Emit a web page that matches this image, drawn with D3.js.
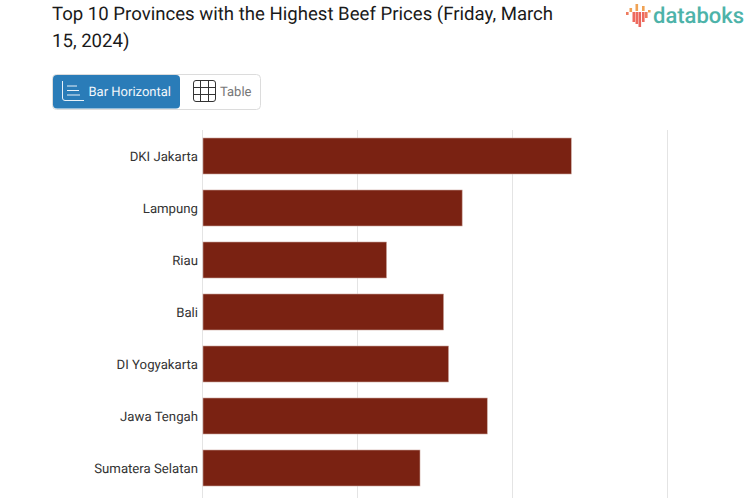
<!DOCTYPE html>
<html>
<head>
<meta charset="utf-8">
<script src="https://cdnjs.cloudflare.com/ajax/libs/d3/7.8.5/d3.min.js"></script>
<style>
  html, body { margin: 0; padding: 0; background: #fff; overflow: hidden; }
  text { font-family: Roboto, sans-serif; text-rendering: geometricPrecision; }
</style>
</head>
<body>
<script>
// only the seven rows visible in the picture, values estimated (no axis labels shown)
const provinces = ['DKI Jakarta', 'Lampung', 'Riau', 'Bali', 'DI Yogyakarta', 'Jawa Tengah', 'Sumatera Selatan'];
const prices = [118800, 83600, 59200, 77600, 79200, 91700, 70000];
const xTicks = [0, 50000, 100000, 150000];
const titleLines = ['Top 10 Provinces with the Highest Beef Prices (Friday, March', '15, 2024)'];

const w = 753;
const h = 498;

const svg = d3.select('body')
  .append('svg')
  .attr('width', w)
  .attr('height', h)
  .style('display', 'block');

// title
svg.append('g')
  .selectAll('text')
  .data(titleLines)
  .enter()
  .append('text')
  .attr('x', 52)
  .attr('y', (d, i) => 19.5 + i * 27)
  .attr('font-size', 18.6)
  .attr('fill', '#1a1a1a')
  .text(d => d);

// logo
const logoBars = [
  { x: 626, y: 12, h: 3, c: '#ee7b5f' },
  { x: 629.5, y: 8, h: 4, c: '#f0a254' },
  { x: 632.5, y: 12, h: 10, c: '#ee6a5e' },
  { x: 635.5, y: 4, h: 7, c: '#f0a254' },
  { x: 635.5, y: 12, h: 12, c: '#ee6a5e' },
  { x: 638.5, y: 12, h: 15, c: '#e9655c' },
  { x: 642, y: 6, h: 5, c: '#f0a254' },
  { x: 642, y: 12, h: 10, c: '#ee6a5e' },
  { x: 645, y: 12, h: 6, c: '#ee7b5f' },
  { x: 648, y: 10, h: 2.5, c: '#f0a254' },
];
svg.append('g')
  .selectAll('rect')
  .data(logoBars)
  .enter()
  .append('rect')
  .attr('x', d => d.x)
  .attr('y', d => d.y)
  .attr('width', 2.6)
  .attr('height', d => d.h)
  .attr('fill', d => d.c);

svg.append('text')
  .attr('x', 653)
  .attr('y', 23)
  .attr('font-size', 22)
  .attr('font-weight', 500)
  .attr('fill', '#4db3a9')
  .text('databoks');

// toggle buttons
const toggle = svg.append('g');
toggle.append('rect')
  .attr('x', 52.5)
  .attr('y', 74.5)
  .attr('width', 208)
  .attr('height', 35)
  .attr('rx', 4)
  .attr('fill', '#fff')
  .attr('stroke', '#dcdcdc');
toggle.append('rect')
  .attr('x', 53)
  .attr('y', 75)
  .attr('width', 127)
  .attr('height', 33.5)
  .attr('rx', 4)
  .attr('fill', '#2a7cb8');
toggle.append('text')
  .attr('x', 88.5)
  .attr('y', 96)
  .attr('font-size', 13)
  .attr('fill', '#f2f7fb')
  .text('Bar Horizontal');
toggle.append('text')
  .attr('x', 220)
  .attr('y', 96)
  .attr('font-size', 13)
  .attr('fill', '#777')
  .text('Table');

// bar icon
const barIcon = d3.path();
barIcon.moveTo(62.5, 81);
barIcon.lineTo(62.5, 98);
barIcon.quadraticCurveTo(62.5, 100.5, 65, 100.5);
barIcon.lineTo(84, 100.5);
[[67, 77, 86], [67, 79, 90.5], [67, 80, 95]].forEach(([x1, x2, y]) => {
  barIcon.moveTo(x1, y);
  barIcon.lineTo(x2, y);
});
toggle.append('path')
  .attr('d', barIcon.toString())
  .attr('fill', 'none')
  .attr('stroke', '#e8f1f8')
  .attr('stroke-width', 1);

// table icon
const tableIcon = d3.path();
tableIcon.moveTo(196, 80.5);
tableIcon.lineTo(213, 80.5);
tableIcon.quadraticCurveTo(215.5, 80.5, 215.5, 83);
tableIcon.lineTo(215.5, 99);
tableIcon.quadraticCurveTo(215.5, 101.5, 213, 101.5);
tableIcon.lineTo(196, 101.5);
tableIcon.quadraticCurveTo(193.5, 101.5, 193.5, 99);
tableIcon.lineTo(193.5, 83);
tableIcon.quadraticCurveTo(193.5, 80.5, 196, 80.5);
[200.5, 208.5].forEach(x => {
  tableIcon.moveTo(x, 80.5);
  tableIcon.lineTo(x, 101.5);
});
[87.5, 94.5].forEach(y => {
  tableIcon.moveTo(193.5, y);
  tableIcon.lineTo(215.5, y);
});
toggle.append('path')
  .attr('d', tableIcon.toString())
  .attr('fill', 'none')
  .attr('stroke', '#333')
  .attr('stroke-width', 1);

// scales
const x = d3.scaleLinear()
  .domain([0, 150000])
  .range([202, 667]);

const y = d3.scaleBand()
  .domain(provinces)
  .range([130, 494])
  .paddingInner(16 / 52)
  .paddingOuter(8 / 52);

// grid
const grid = svg.append('g')
  .attr('transform', 'translate(0,130)')
  .call(d3.axisBottom(x).tickValues(xTicks).tickSize(368).tickFormat(''));
grid.select('.domain').remove();
grid.selectAll('.tick line').attr('stroke', '#e4e4e4');

// bars
svg.append('g')
  .selectAll('rect')
  .data(provinces)
  .enter()
  .append('rect')
  .attr('x', x(0) + 1)
  .attr('y', d => y(d))
  .attr('width', (d, i) => x(prices[i]) - x(0))
  .attr('height', y.bandwidth())
  .attr('fill', '#7a2212')
  .attr('stroke', '#c9a49c')
  .attr('stroke-width', 0.6);

// category labels
const yAxis = svg.append('g')
  .attr('transform', `translate(${x(0)},1)`)
  .call(d3.axisLeft(y).tickSize(0).tickPadding(4));
yAxis.select('.domain').remove();
yAxis.selectAll('text')
  .attr('font-family', 'Roboto, sans-serif')
  .attr('font-size', 13.2)
  .attr('fill', '#333');
</script>
</body>
</html>
